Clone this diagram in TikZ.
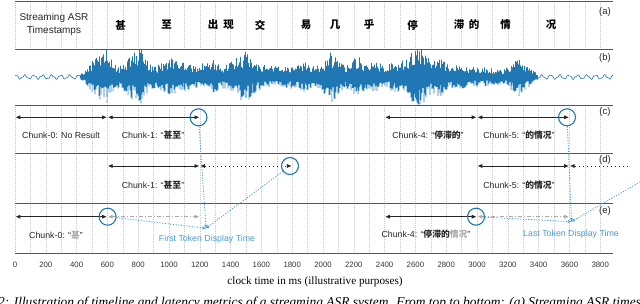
\documentclass[tikz,border=0pt]{standalone}
\usepackage{fontspec}
\setmainfont{Liberation Sans}
\newfontfamily\cjk{Noto Sans CJK SC}
\newfontfamily\tms{Liberation Serif}
\usetikzlibrary{arrows.meta}
\definecolor{wblue}{HTML}{1F77B4}
\definecolor{lblue}{HTML}{4A9AD4}
\definecolor{grc}{HTML}{AAAAAA}
\definecolor{axc}{HTML}{555555}
\newcommand\zh[1]{{\cjk\bfseries #1}}
\newcommand\MS[1]{{15+0.154*(#1)}}
\begin{document}
\begin{tikzpicture}[x=1pt,y=-1pt,
  hl/.style={draw=axc, line width=0.9pt},
  gridl/.style={draw=black!22, line width=0.45pt, dash pattern=on 0.8pt off 1.2pt},
  seg/.style={draw=black!85, line width=0.9pt, shorten <=0.8pt, shorten >=0.8pt,
    {Triangle[length=4.5pt,width=3.6pt]}-{Triangle[length=4.5pt,width=3.6pt]}},
  dseg/.style={seg, dash pattern=on 1pt off 3pt},
  gseg/.style={seg, draw=grc, dash pattern=on 4pt off 2pt on 1pt off 2pt},
  bc/.style={circle, draw=wblue, line width=1.1pt, minimum size=17pt, inner sep=0pt},
  bl/.style={draw=lblue, line width=0.8pt, dash pattern=on 1.2pt off 1.5pt, -{Stealth[length=4pt,width=3pt]}},
  lab/.style={font=\fontsize{8.8}{10}\selectfont, text=black!85, inner sep=0pt},
  ticklab/.style={font=\fontsize{7.8}{9}\selectfont, text=black!80, inner sep=0pt},
  pl/.style={font=\fontsize{9.5}{10}\selectfont, text=black!85, inner sep=0pt},
  hz/.style={font=\cjk\bfseries\fontsize{10.5}{11}\selectfont, inner sep=0pt},
  wave/.style={draw=wblue, line width=0.55pt, line join=bevel}
]
\useasboundingbox (0,0) rectangle (640,304);
% grid
\foreach \m in {0,100,...,3800} {
  \draw[gridl] (\MS{\m},1.5) -- (\MS{\m},49);
  \draw[gridl] (\MS{\m},105) -- (\MS{\m},253.7);
}
% horizontal lines
\foreach \yy in {1.5,49,105,153.7,203.7,253.7} \draw[hl] (15,\yy) -- (613,\yy);

% panel a
\node[pl, align=center, font=\fontsize{10}{13}\selectfont] (hdr) at (54,24.5) {Streaming ASR\\Timestamps};
\foreach \px/\ch [count=\i] in {120.7/甚,166.7/至,213/出,228.7/现,260/交,306/易,335/几,369/乎,412.7/停,459/滞,474/的,505.7/情,551/况}
  \node[hz] (h\i) at (\px,25) {\ch};

% waveform
\pgfmathsetseed{7}
\draw[wave, line width=0.6pt] plot[domain=15:86, samples=260] (\x,{77+1.8*sin(\x*40)+0.6*sin(\x*97)});
\draw[wave, line width=0.6pt] plot[domain=537:613, samples=260] (\x,{77+1.8*sin((\x-535)*40)+0.6*sin((\x-535)*97)});
\foreach \xa/\aa/\xb/\ab in {80/2/85/6, 85/6/92/14, 92/14/100/20, 100/20/107/25, 107/25/113/14, 113/14/120/10, 120/10/128/16, 128/16/136/24, 136/24/141/27, 141/27/146/16, 146/16/155/10, 155/10/165/14, 165/14/175/20, 175/20/183/13, 183/13/195/11, 195/11/205/14, 205/14/213/16, 213/16/222/10, 222/10/232/14, 232/14/240/20, 240/20/246/24, 246/24/252/16, 252/16/262/11, 262/11/272/10, 272/10/282/9, 282/9/295/12, 295/12/305/14, 305/14/315/9, 315/9/325/16, 325/16/332/24, 332/24/338/16, 338/16/345/10, 345/10/352/15, 352/15/358/20, 358/20/365/12, 365/12/375/13, 375/13/385/11, 385/11/395/13, 395/13/405/16, 405/16/414/24, 414/24/420/28, 420/28/425/22, 425/22/432/14, 432/14/440/18, 440/18/448/12, 448/12/458/11, 458/11/470/9, 470/9/485/9, 485/9/495/7, 495/7/505/8, 505/8/513/13, 513/13/519/18, 519/18/525/12, 525/12/532/7, 532/7/538/3} {
  \pgfmathtruncatemacro\ns{(\xb-\xa)*2+1}
  \draw[wave] plot[domain=\xa:\xb, samples=\ns] (\x,{77+1.12*(\aa+(\ab-\aa)*(\x-\xa)/(\xb-\xa))*(0.35+0.65*rnd)*cos((\x-\xa)*360)});
}

% panel labels
\node[pl] (la) at (605,11.7) {(a)};
\node[pl] (lb) at (605,58) {(b)};
\node[pl] (lc) at (605,112) {(c)};
\node[pl] (ld) at (605,160) {(d)};
\node[pl] (le) at (605,211) {(e)};

% row c
\foreach \m in {0,600,1200,2400,3000,3600} \coordinate (c\m) at (\MS{\m},117.3);
\draw[seg] (c0) -- (c600);
\draw[seg] (c600) -- (c1200);
\draw[seg] (c2400) -- (c3000);
\draw[seg] (c3000) -- (c3600);
\node[bc] (cc1) at (198.5,117.3) {};
\node[bc] (cc5) at (567,117.3) {};
\node[lab] (tc0) at (61,135.5) {Chunk-0: No Result};
\node[lab] (tc1) at (153,135.5) {Chunk-1: “\zh{甚至}”};
\node[lab] (tc4) at (428,135.5) {Chunk-4: “\zh{停滞的}”};
\node[lab] (tc5) at (519,135.5) {Chunk-5: “\zh{的情况}”};

% row d
\foreach \m in {600,1200,1800,3000,3600} \coordinate (d\m) at (\MS{\m},166);
\coordinate (dend) at (628,166);
\draw[seg] (d600) -- (d1200);
\draw[dseg] (d1200) -- (d1800);
\draw[seg] (d3000) -- (d3600);
\draw[draw=black!85, line width=0.9pt, dash pattern=on 1pt off 3pt, shorten <=0.8pt, {Triangle[length=4.5pt,width=3.6pt]}-] (d3600) -- (dend);
\node[bc] (dc1) at (290,166) {};
\node[lab] (td1) at (153,185) {Chunk-1: “\zh{甚至}”};
\node[lab] (td5) at (519,185) {Chunk-5: “\zh{的情况}”};

% row e
\foreach \m in {0,600,1200,2400,3000,3600} \coordinate (e\m) at (\MS{\m},216.7);
\draw[seg] (e0) -- (e600);
\draw[gseg] (e600) -- (e1200);
\draw[seg] (e2400) -- (e3000);
\draw[gseg] (e3000) -- (e3600);
\node[bc] (ec0) at (107.6,216.7) {};
\node[bc] (ec4) at (476,216.7) {};
\node[lab] (te0) at (56,235) {Chunk-0: “\textcolor{grc}{\zh{甚}}”};
\node[lab] (te4) at (426,234.5) {Chunk-4: “\zh{停滞的}\textcolor{grc}{\zh{情况}}”};

% display time connectors
\coordinate (F) at (206,228.3);
\coordinate (L) at (571.5,221.7);
\coordinate (dout) at (645,179);
\draw[bl] (cc1) -- (F);
\draw[bl] (ec0) -- (F);
\draw[bl] (dc1) -- (F);
\draw[bl] (cc5) -- (L);
\draw[bl] (ec4) -- (L);
\draw[bl] (dout) -- (L);
\node[lab, text=lblue] (ft) at (207,239.3) {First Token Display Time};
\node[lab, text=lblue] (lt) at (571,234.3) {Last Token Display Time};

% axis tick labels
\foreach \m in {0,200,...,3800} \node[ticklab] (t\m) at (\MS{\m},265) {\m};
\node[font=\tms\fontsize{11.2}{12}\selectfont, inner sep=0pt] (xl) at (315,281.5) {clock time in ms (illustrative purposes)};
\node[font=\tms\itshape\fontsize{13.4}{14}\selectfont, inner sep=0pt, anchor=base west] (cap) at (-2,306.2) {2: Illustration of timeline and latency metrics of a streaming ASR system. From top to bottom: (a) Streaming ASR timestamps};
\end{tikzpicture}
\end{document}
